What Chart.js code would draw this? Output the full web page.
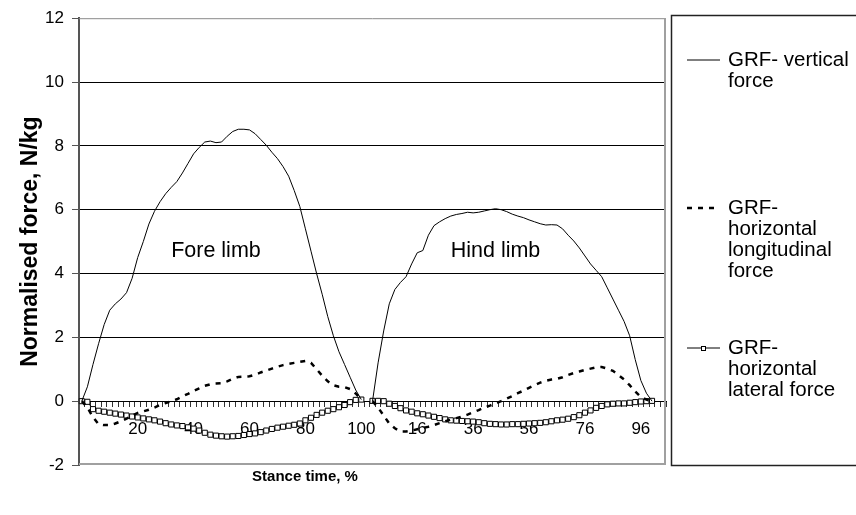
<!DOCTYPE html>
<html><head><meta charset="utf-8">
<script src="https://cdn.jsdelivr.net/npm/chart.js@4.4.0/dist/chart.umd.min.js"></script>
<style>html,body{margin:0;padding:0;background:#fff;}canvas{display:block;}</style>
</head><body>
<canvas id="c" width="856" height="515"></canvas>
<script>
// Categories (stance time, %), fore limb then hind limb
const foreCats = [0,2,4,6,8,10,12,14,16,18,20,22,24,26,28,30,32,34,36,38,40,42,44,46,48,50,52,54,56,58,60,62,64,66,68,70,72,74,76,78,80,82,84,86,88,90,92,94,96,98,100];
const hindCats = [0,2,4,6,8,10,12,14,16,18,20,22,24,26,28,30,32,34,36,38,40,42,44,46,48,50,52,54,56,58,60,62,64,66,68,70,72,74,76,78,80,82,84,86,88,90,92,94,96,98,100];

// GRF vertical force (N/kg)
const foreVertical = [0,0.45,1.15,1.8,2.4,2.85,3.05,3.2,3.4,3.85,4.5,5.0,5.55,5.95,6.25,6.5,6.7,6.88,7.15,7.45,7.75,7.95,8.12,8.15,8.1,8.12,8.3,8.45,8.52,8.52,8.5,8.38,8.2,8.02,7.8,7.6,7.35,7.05,6.6,6.1,5.4,4.7,4.0,3.35,2.65,2.05,1.55,1.15,0.75,0.35,0.05];
const hindVertical = [0,1.2,2.2,3.05,3.5,3.72,3.9,4.3,4.65,4.72,5.2,5.5,5.62,5.72,5.8,5.85,5.88,5.92,5.9,5.92,5.96,6.0,6.03,6.0,5.94,5.86,5.8,5.75,5.68,5.62,5.56,5.52,5.53,5.52,5.4,5.2,5.02,4.8,4.55,4.3,4.1,3.9,3.55,3.2,2.85,2.5,2.05,1.3,0.65,0.25,0.0];

// GRF horizontal longitudinal force
const foreLongitudinal = [0,-0.2,-0.5,-0.72,-0.75,-0.75,-0.7,-0.63,-0.55,-0.45,-0.37,-0.32,-0.27,-0.2,-0.12,-0.06,0.0,0.06,0.15,0.23,0.32,0.4,0.48,0.53,0.55,0.56,0.62,0.7,0.76,0.77,0.78,0.83,0.9,0.96,1.02,1.08,1.13,1.17,1.2,1.23,1.26,1.2,1.0,0.8,0.62,0.5,0.45,0.44,0.38,0.24,0.05];
const hindLongitudinal = [0,-0.2,-0.45,-0.7,-0.85,-0.95,-0.95,-0.92,-0.88,-0.84,-0.8,-0.75,-0.69,-0.63,-0.58,-0.53,-0.48,-0.42,-0.35,-0.28,-0.2,-0.14,-0.07,0.0,0.08,0.16,0.25,0.33,0.42,0.5,0.58,0.64,0.68,0.7,0.75,0.82,0.88,0.93,0.98,1.02,1.06,1.07,1.02,0.95,0.82,0.68,0.5,0.3,0.13,0.05,0.0];

// GRF horizontal lateral force
const foreLateral = [0,-0.02,-0.25,-0.3,-0.33,-0.36,-0.39,-0.42,-0.45,-0.48,-0.51,-0.54,-0.57,-0.6,-0.64,-0.69,-0.73,-0.76,-0.78,-0.82,-0.86,-0.92,-0.99,-1.05,-1.08,-1.1,-1.11,-1.1,-1.09,-1.06,-1.03,-1.01,-0.97,-0.92,-0.87,-0.83,-0.8,-0.77,-0.74,-0.7,-0.6,-0.52,-0.43,-0.36,-0.3,-0.25,-0.19,-0.12,-0.03,0.04,0.05];
const hindLateral = [0.01,0.01,0,-0.08,-0.15,-0.22,-0.29,-0.33,-0.38,-0.41,-0.45,-0.49,-0.53,-0.57,-0.6,-0.61,-0.62,-0.63,-0.64,-0.66,-0.69,-0.71,-0.72,-0.73,-0.73,-0.72,-0.72,-0.71,-0.7,-0.69,-0.68,-0.66,-0.63,-0.6,-0.58,-0.55,-0.5,-0.44,-0.36,-0.29,-0.21,-0.15,-0.1,-0.08,-0.07,-0.07,-0.05,-0.03,-0.01,0.0,0.01];

const yTicks = [-2,0,2,4,6,8,10,12];
const seriesLabels = ['GRF- vertical force','GRF- horizontal longitudinal force','GRF- horizontal lateral force'];
const annotations = [{text:'Fore limb', idx:24, y:4.7},{text:'Hind limb', idx:74, y:4.7}];

const labels = foreCats.concat([''], hindCats, ['','']);
const join = (a,b) => a.concat([null], b, [null,null]);

const FONT = 'Arial, "Liberation Sans", sans-serif';

const framePlugin = {
  id:'frame',
  beforeDatasetsDraw(chart){
    const {ctx, chartArea:a} = chart;
    ctx.save();
    ctx.strokeStyle = '#8a8a8a'; ctx.lineWidth = 1;
    ctx.beginPath(); ctx.moveTo(a.left, a.top+0.5); ctx.lineTo(a.right, a.top+0.5); ctx.stroke();
    ctx.strokeStyle = '#a0a0a0'; ctx.lineWidth = 2;
    ctx.beginPath(); ctx.moveTo(a.right-1, a.top); ctx.lineTo(a.right-1, a.bottom-1); ctx.lineTo(a.left, a.bottom-1); ctx.stroke();
    ctx.restore();
  }
};

const textPlugin = {
  id:'texts',
  afterDatasetsDraw(chart){
    const {ctx, chartArea:a} = chart;
    const xs = chart.scales.x, ys = chart.scales.y;
    ctx.save();
    ctx.fillStyle = '#000';
    ctx.textAlign = 'center'; ctx.textBaseline = 'middle';
    ctx.font = '21.5px ' + FONT;
    annotations.forEach(an => ctx.fillText(an.text, xs.getPixelForValue(an.idx), ys.getPixelForValue(an.y)));
    ctx.font = 'bold 15px ' + FONT;
    ctx.fillText('Stance time, %', 305, a.bottom + 12);
    ctx.restore();
  }
};

const legendPlugin = {
  id:'boxlegend',
  afterDraw(chart, args, opts){
    const {ctx} = chart;
    ctx.save();
    ctx.strokeStyle = '#222'; ctx.lineWidth = 1.5;
    ctx.strokeRect(671.5, 15.5, 220, 450);
    ctx.font = '20.5px ' + FONT;
    ctx.textBaseline = 'middle'; ctx.textAlign = 'left'; ctx.fillStyle = '#000';
    chart.data.datasets.forEach((ds, i) => {
      const y = opts.ys[i];
      ctx.save();
      ctx.strokeStyle = ds.borderColor; ctx.lineWidth = ds.borderWidth;
      ctx.setLineDash(ds.borderDash || []);
      ctx.beginPath(); ctx.moveTo(687, y); ctx.lineTo(720, y); ctx.stroke();
      ctx.restore();
      if (ds.pointStyle === 'rect') {
        ctx.save(); ctx.fillStyle = '#fff'; ctx.strokeStyle = '#000'; ctx.lineWidth = 1;
        ctx.fillRect(701, y-2, 4, 4); ctx.strokeRect(701.5, y-1.5, 4, 4); ctx.restore();
      }
      const words = ds.label.split(' ');
      const lines = []; let cur = '';
      words.forEach(w => {
        const t = cur ? cur + ' ' + w : w;
        if (ctx.measureText(t).width > opts.maxW && cur) { lines.push(cur); cur = w; } else cur = t;
      });
      if (cur) lines.push(cur);
      lines.forEach((l, k) => ctx.fillText(l, 728, y + k*21));
    });
    ctx.restore();
  }
};

new Chart(document.getElementById('c'), {
  type:'line',
  data:{
    labels: labels,
    datasets:[
      {label: seriesLabels[0], data: join(foreVertical, hindVertical), borderColor:'#000', borderWidth:1, pointRadius:0, tension:0, spanGaps:false},
      {label: seriesLabels[1], data: join(foreLongitudinal, hindLongitudinal), borderColor:'#000', borderWidth:2.5, borderDash:[5,6], pointRadius:0, tension:0, spanGaps:false},
      {label: seriesLabels[2], data: join(foreLateral, hindLateral), borderColor:'#000', borderWidth:1, pointStyle:'rect', pointRadius:3.6, pointBackgroundColor:'#fff', pointBorderColor:'#000', pointBorderWidth:1, tension:0, spanGaps:false}
    ]
  },
  options:{
    responsive:false, animation:false, devicePixelRatio:1,
    layout:{padding:{left:0, top:16, right:190, bottom:50}},
    plugins:{legend:{display:false}, tooltip:{enabled:false}, boxlegend:{ys:[60,208,348], maxW:130}},
    scales:{
      x:{
        type:'category', position:{y:0}, offset:true,
        grid:{offset:true, drawOnChartArea:false, tickLength:5, color:'#333'},
        border:{color:'#000', width:1},
        ticks:{autoSkip:false, maxRotation:0, minRotation:0, padding:13, color:'#000', font:{family:FONT, size:17},
          callback:function(v, i){ return (i % 10 === 0 && i > 0) ? this.getLabelForValue(v) : ''; }}
      },
      y:{
        min:-2, max:12,
        afterBuildTicks:(s)=>{ s.ticks = yTicks.map(v=>({value:v})); },
        afterFit:(s)=>{ s.width = 79; },
        grid:{color:(c)=> (c.tick && (c.tick.value===12 || c.tick.value===-2)) ? 'rgba(0,0,0,0)' : '#000', tickColor:'#555', tickLength:7, lineWidth:1},
        border:{color:'#555', width:2},
        ticks:{padding:8, color:'#000', font:{family:FONT, size:17}},
        title:{display:true, text:'Normalised force, N/kg', color:'#000', font:{family:FONT, size:23, weight:'bold'}, padding:{top:17, bottom:0}}
      }
    }
  },
  plugins:[framePlugin, textPlugin, legendPlugin]
});
</script>
</body></html>
